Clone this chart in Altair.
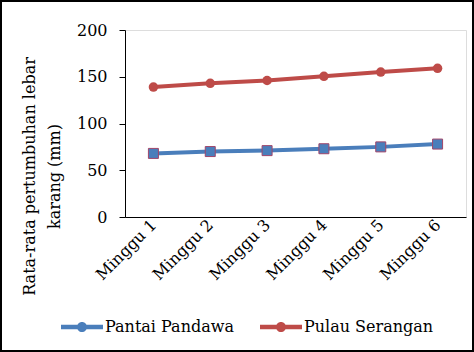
import altair as alt
import pandas as pd

weeks = ["Minggu 1", "Minggu 2", "Minggu 3", "Minggu 4", "Minggu 5", "Minggu 6"]
pandawa = [68, 70, 71, 73, 75, 78]
serangan = [139, 143, 146, 150.5, 155, 159]
series = ["Pantai Pandawa", "Pulau Serangan"]
colors = ["#4a7ebb", "#be4b48"]

rows = []
for w, a, b in zip(weeks, pandawa, serangan):
    rows.append({"week": w, "value": a, "series": series[0]})
    rows.append({"week": w, "value": b, "series": series[1]})
df = pd.DataFrame(rows)

FONT = "DejaVu Serif"
FS = 16

x = alt.X("week:N", sort=weeks, title=None,
          scale=alt.Scale(paddingInner=0, paddingOuter=0),
          axis=alt.Axis(labelAngle=-45, labelAlign="right", labelBaseline="middle",
                        ticks=False, domainColor="black", labelPadding=5))
y = alt.Y("value:Q", title=["Rata-rata pertumbuhan lebar", "karang (mm)"],
          scale=alt.Scale(domain=[0, 200]),
          axis=alt.Axis(values=[0, 50, 100, 150, 200], grid=False, tickSize=6,
                        tickColor="black", domainColor="black", labelPadding=12,
                        titleX=-88, titleY=146, titleLineHeight=25))
color = alt.Color("series:N", scale=alt.Scale(domain=series, range=colors),
                  legend=alt.Legend(title=None, orient="none", direction="horizontal",
                                    legendX=-64, legendY=276))

base = alt.Chart(df).encode(x=x, y=y, color=color)
line = base.mark_line(strokeWidth=4)
pts_a = alt.Chart(df).transform_filter(alt.datum.series == series[0]).mark_square(
    size=100, opacity=1, filled=True, stroke="#a0466a", strokeWidth=1).encode(
    x=alt.X("week:N", sort=weeks), y="value:Q", color=alt.Color("series:N", scale=alt.Scale(domain=series, range=colors), legend=None))
pts_b = alt.Chart(df).transform_filter(alt.datum.series == series[1]).mark_circle(
    size=90, opacity=1).encode(
    x=alt.X("week:N", sort=weeks), y="value:Q", color=alt.Color("series:N", scale=alt.Scale(domain=series, range=colors), legend=None))

frame = alt.Chart(pd.DataFrame({"a": [0]})).mark_rect(
    fill=None, stroke="black", strokeWidth=2, clip=False).encode(
    x=alt.value(-124), x2=alt.value(348), y=alt.value(-29), y2=alt.value(321))

chart = alt.layer(line, pts_a, pts_b, frame).properties(
    width=341, height=187,
    autosize=alt.AutoSizeParams(type="none"),
    padding={"left": 125, "top": 30, "right": 8, "bottom": 135},
).configure_view(stroke=None).configure(background="white").configure_axis(
    labelFont=FONT, labelFontSize=FS, labelColor="black",
    titleFont=FONT, titleFontSize=FS, titleColor="black", titleFontWeight="normal",
).configure_legend(
    labelFont=FONT, labelFontSize=FS, labelColor="black",
    columnPadding=26, labelOffset=2,
    symbolType="M-1,-0.11H1V0.11H-1Z M0.24,0A0.24,0.24 0 1,1 -0.24,0A0.24,0.24 0 1,1 0.24,0Z",
    symbolSize=1764, symbolStrokeWidth=0,
)

chart.save("out.html", embed_options={"renderer": "svg", "actions": False})
